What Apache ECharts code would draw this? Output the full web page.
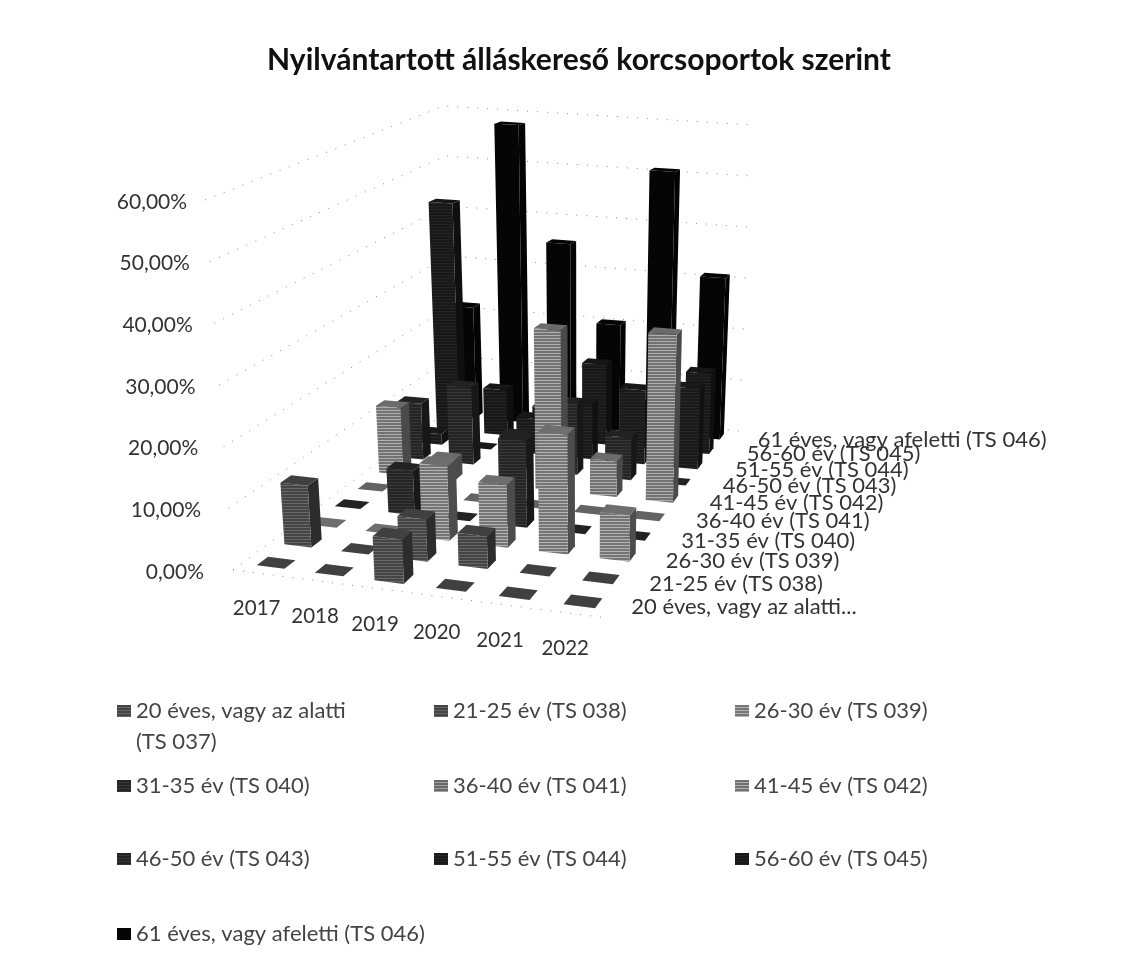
<!DOCTYPE html>
<html>
<head>
<meta charset="utf-8">
<style>
  html, body { margin: 0; padding: 0; background: #fff; }
  #chart { width: 1147px; height: 956px; }
</style>
<script src="https://cdn.jsdelivr.net/npm/echarts@6/dist/echarts.min.js"></script>
</head>
<body>
<div id="chart"></div>
<script>
const years = ["2017", "2018", "2019", "2020", "2021", "2022"];
const valueTicks = [0, 10, 20, 30, 40, 50, 60];
const valueTickLabels = ["0,00%", "10,00%", "20,00%", "30,00%", "40,00%", "50,00%", "60,00%"];

const ageNames = [
  "20 éves, vagy az alatti (TS 037)", "21-25 év (TS 038)", "26-30 év (TS 039)",
  "31-35 év (TS 040)", "36-40 év (TS 041)", "41-45 év (TS 042)",
  "46-50 év (TS 043)", "51-55 év (TS 044)", "56-60 év (TS 045)",
  "61 éves, vagy afeletti (TS 046)"
];
const depthLabels = ["20 éves, vagy az alatti..."].concat(ageNames.slice(1));

// percent per year
const age20 = [0, 0, 7, 0, 0, 0];
const age21 = [10.2, 0, 6.8, 5.2, 0, 0];
const age26 = [0, 0, 12.3, 10.2, 19.4, 7.4];
const age31 = [0, 7.5, 0, 14.5, 0, 0];
const age36 = [0, 0, 0, 0, 0, 0];
const age41 = [12, 3.6, 0, 28.2, 6.2, 29];
const age46 = [10.2, 14, 6, 12.7, 7.5, 0];
const age51 = [2, 0, 6.5, 10, 13.5, 14.6];
const age56 = [43.6, 8.6, 6, 15, 8, 15];
const age61 = [21.6, 58, 35.4, 20.4, 50.8, 31];
const ageValues = [age20, age21, age26, age31, age36, age41, age46, age51, age56, age61];

const ageColors = ["#505050", "#505050", "#8a8a8a", "#2c2c2c", "#7c7c7c",
  "#868686", "#2a2a2a", "#1e1e1e", "#1c1c1c", "#050505"];

// floor of the 3D box in page pixels: front-left, front-right, back-right, back-left
const floor = [[233, 570], [607, 618], [740, 431], [454, 406]];
const unitHeight = { fl: 6.167, fr: 6.6, br: 5.1, bl: 5.0 };
const vanishX = 580, verticalLean = 0.00134;
const barHalfU = 0.04, barHalfV = 0.02;

function solveFloor(p) {
  const dx1 = p[1][0] - p[2][0], dx2 = p[3][0] - p[2][0], sx = p[0][0] - p[1][0] + p[2][0] - p[3][0];
  const dy1 = p[1][1] - p[2][1], dy2 = p[3][1] - p[2][1], sy = p[0][1] - p[1][1] + p[2][1] - p[3][1];
  const den = dx1 * dy2 - dx2 * dy1;
  const g = (sx * dy2 - dx2 * sy) / den, h = (dx1 * sy - sx * dy1) / den;
  return {
    a: p[1][0] - p[0][0] + g * p[1][0], b: p[3][0] - p[0][0] + h * p[3][0], c: p[0][0],
    d: p[1][1] - p[0][1] + g * p[1][1], e: p[3][1] - p[0][1] + h * p[3][1], f: p[0][1],
    g: g, h: h
  };
}
const m = solveFloor(floor);

// year position u, depth position v (0..1), value in percent -> axis coordinates
function project(u, v, val) {
  const w = m.g * u + m.h * v + 1;
  const x = (m.a * u + m.b * v + m.c) / w;
  const y = (m.d * u + m.e * v + m.f) / w;
  const front = unitHeight.fl + (unitHeight.fr - unitHeight.fl) * u;
  const back = unitHeight.bl + (unitHeight.br - unitHeight.bl) * u;
  const scale = front + (back - front) * v;
  return [x + (x - vanishX) * verticalLean * val, y - val * scale];
}
const yearU = i => (i + 0.5) / years.length;
const rowV = j => (j + 0.5) / ageNames.length;

function shade(hex, f) {
  const n = parseInt(hex.slice(1), 16);
  const c = [n >> 16, (n >> 8) & 255, n & 255].map(v => Math.round(v * f));
  return "rgb(" + c.join(",") + ")";
}

// the scan turned the fills into grey stripes
function stripes(hex) {
  const cv = document.createElement("canvas");
  cv.width = 4;
  cv.height = 3;
  const ctx = cv.getContext("2d");
  ctx.fillStyle = shade(hex, 0.85);
  ctx.fillRect(0, 0, 4, 3);
  ctx.fillStyle = shade(hex, 1.3);
  ctx.fillRect(0, 2, 4, 1);
  return { image: cv, repeat: "repeat" };
}
const agePatterns = ageColors.map(stripes);

function poly(api, pts, fill, z2) {
  return {
    type: "polygon",
    z2: z2,
    shape: { points: pts.map(p => api.coord(p)) },
    style: { fill: fill }
  };
}

function renderBar(row) {
  return function (params, api) {
    const u = yearU(api.value(0)), v = rowV(row), val = api.value(1);
    const color = ageColors[row];
    const u0 = u - barHalfU, u1 = u + barHalfU, v0 = v - barHalfV, v1 = v + barHalfV;
    const children = [];
    if (val > 0) {
      children.push(poly(api, [project(u1, v0, 0), project(u1, v1, 0), project(u1, v1, val), project(u1, v0, val)],
        shade(color, 0.55), 1));
      children.push(poly(api, [project(u0, v0, 0), project(u1, v0, 0), project(u1, v0, val), project(u0, v0, val)],
        agePatterns[row], 2));
    }
    children.push(poly(api, [project(u0, v0, val), project(u1, v0, val), project(u1, v1, val), project(u0, v1, val)],
      shade(color, 0.8), 3));
    return { type: "group", children: children };
  };
}

function dottedLine(api, pts) {
  return {
    type: "polyline",
    shape: { points: pts.map(p => api.coord(p)) },
    style: { fill: null, stroke: "#8a8a8a", lineWidth: 1, lineDash: [1, 9] }
  };
}

function label(api, pos, dx, dy, text, align, size) {
  const c = api.coord(pos);
  return {
    type: "text",
    x: c[0] + dx,
    y: c[1] + dy,
    style: {
      text: text, textAlign: align, textVerticalAlign: "middle",
      font: size + "px Lato", fill: "#333333"
    }
  };
}

const bgSeries = [
  {
    // walls
    type: "custom", coordinateSystem: "cartesian2d", silent: true, z: 1, clip: false,
    data: valueTicks.map((t, i) => [t, i]),
    renderItem(params, api) {
      const t = api.value(0);
      const children = [dottedLine(api, [project(0, 0, t), project(0, 1, t), project(1, 1, t)])];
      if (t === 0) children.push(dottedLine(api, [project(0, 0, 0), project(1, 0, 0)]));
      children.push(label(api, project(0, 0, t), -29 + (t / 60) * 11, 2, valueTickLabels[api.value(1)], "right", 21));
      return { type: "group", children: children };
    }
  },
  {
    // year labels under the front edge
    type: "custom", coordinateSystem: "cartesian2d", silent: true, z: 1, clip: false,
    data: years.map((y, i) => [i, 0]),
    renderItem(params, api) {
      const i = api.value(0);
      return label(api, project(yearU(i), 0, 0), -5 - 3.6 * yearU(i), 35, years[i], "center", 20.5);
    }
  },
  {
    // age group labels along the right edge
    type: "custom", coordinateSystem: "cartesian2d", silent: true, z: 30, clip: false,
    data: depthLabels.map((n, j) => [j, 0]),
    renderItem(params, api) {
      const j = api.value(0);
      return label(api, project(1, rowV(j), 0), 15 + 8 * rowV(j), 2, depthLabels[j], "left", 22);
    }
  }
];

// back rows first so the front rows cover them
const barSeries = ageNames.map((name, row) => ({
  name: name,
  type: "custom",
  coordinateSystem: "cartesian2d",
  clip: false,
  z: 12 + (ageNames.length - row),
  itemStyle: { color: agePatterns[row] },
  encode: { x: 0, y: 1 },
  data: ageValues[row].map((val, i) => [i, val]),
  renderItem: renderBar(row)
}));

const legendCols = [117, 434, 735];
const legendRows = [699, 774, 847, 922];
const legends = ageNames.map((name, i) => ({
  data: [name],
  left: legendCols[i % 3],
  top: legendRows[Math.floor(i / 3)],
  padding: 0,
  icon: "rect",
  itemWidth: 14,
  itemHeight: 12,
  selectedMode: false,
  textStyle: { fontFamily: "Lato", fontSize: 22, color: "#444444", lineHeight: 24 },
  formatter: n => n === ageNames[0] ? "20 éves, vagy az alatti" : n
}));

const chart = echarts.init(document.getElementById("chart"));
chart.setOption({
  animation: false,
  backgroundColor: "#ffffff",
  title: {
    text: "Nyilvántartott álláskereső korcsoportok szerint",
    left: 574,
    top: 40,
    textAlign: "center",
    textStyle: { fontFamily: "Lato", fontWeight: "bold", fontSize: 30, color: "#111111" }
  },
  grid: { left: 0, right: 0, top: 0, bottom: 0 },
  xAxis: { type: "value", min: 0, max: 1147, show: false },
  yAxis: { type: "value", min: 0, max: 956, inverse: true, show: false },
  legend: legends,
  graphic: [{
    type: "text",
    left: 136,
    top: 731,
    style: { text: "(TS 037)", font: "22px Lato", fill: "#444444" }
  }],
  series: bgSeries.concat(barSeries)
});
</script>
</body>
</html>
